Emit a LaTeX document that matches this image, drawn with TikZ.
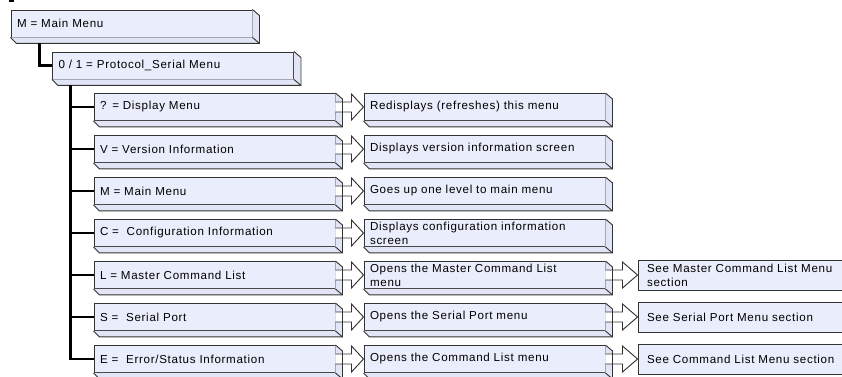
\documentclass[tikz,border=0pt]{standalone}
\usepackage{fontspec}
\setmainfont{Liberation Sans}[LetterSpace=6.0]
\usetikzlibrary{calc}
\definecolor{boxfill}{HTML}{EAEDFB}
\definecolor{sidefill}{HTML}{E2E5F5}
\definecolor{edge}{HTML}{333333}
\tikzset{
 menubox/.style={draw=edge, line width=0.7pt, fill=boxfill, rectangle, inner xsep=4.5pt, inner ysep=0pt, minimum height=20.25pt, text width=171.75pt, align=left, font=\fontsize{8.7pt}{10.5pt}\selectfont},
 seebox/.style={menubox, inner xsep=6.75pt, text width=153pt, minimum height=22.5pt},
 conn/.style={line width=2.2pt, black, line join=miter},
 blockarrow/.style={draw=edge, line width=0.7pt, fill=white, line join=miter},
 sideface/.style={fill=sidefill},
 sideline/.style={draw=edge, line width=0.7pt},
}
\newcommand\bevfill[1]{\fill[sideface] (#1.north east) -- ++(7,6) -- ($(#1.south east)+(7,6)$) -- ($(#1.south west)+(6,6)$) -- (#1.south west) -- (#1.south east) -- cycle;}
\newcommand\bevline[1]{\draw[sideline] (#1.north east) -- ++(7,6) -- ($(#1.south east)+(7,6)$) -- ($(#1.south west)+(6,6)$) -- (#1.south west); \draw[sideline] (#1.south east) -- ++(7,6);}
\newcommand\blockarr[3]{\draw[blockarrow] ($(#1.east)+(0,-5)$) -- ($(#1.east)+(#3,-5)$) -- ($(#1.east)+(#3,-13)$) -- (#2.west) -- ($(#1.east)+(#3,13)$) -- ($(#1.east)+(#3,5)$) -- ($(#1.east)+(0,5)$);}
\begin{document}
\begin{tikzpicture}[x=0.75pt,y=-0.75pt]
\useasboundingbox (0,0) rectangle (842,377);
\clip (0,0) rectangle (842,377);
\fill[white] (0,0) rectangle (842,377);
\draw[line width=1.1pt] (9,0.8) -- (14,0.8);
% top boxes
\node[menubox] (b1) at (131.5,23.5) {M = Main Menu};
\node[menubox] (b2) at (173,65.5) {0 / 1 = Protocol\_Serial Menu};
% children
\node[menubox] (c1) at (214.5,107) {? = Display Menu};
\node[menubox] (c2) at (214.5,149) {V = Version Information};
\node[menubox] (c3) at (214.5,191) {M = Main Menu};
\node[menubox] (c4) at (214.5,233) {C =\ \ Configuration Information};
\node[menubox] (c5) at (214.5,275) {L = Master Command List};
\node[menubox] (c6) at (214.5,317) {S =\ \ Serial Port};
\node[menubox] (c7) at (214.5,359) {E =\ \ Error/Status Information};
% middle
\node[menubox] (m1) at (484.5,107) {Redisplays (refreshes) this menu};
\node[menubox] (m2) at (484.5,149) {Displays version information screen};
\node[menubox] (m3) at (484.5,191) {Goes up one level to main menu};
\node[menubox] (m4) at (484.5,233) {Displays configuration information\\screen};
\node[menubox] (m5) at (484.5,275) {Opens the Master Command List\\menu};
\node[menubox] (m6) at (484.5,317) {Opens the Serial Port menu};
\node[menubox] (m7) at (484.5,359) {Opens the Command List menu};
% third
\node[seebox] (t5) at (749,275) {See Master Command List Menu\\section};
\node[seebox] (t6) at (749,317) {See Serial Port Menu section};
\node[seebox] (t7) at (749,359) {See Command List Menu section};
% bevel faces
\foreach \n in {b1,b2,c1,c2,c3,c4,c5,c6,c7,m1,m2,m3,m4,m5,m6,m7} {\bevfill{\n}}
% block arrows
\foreach \k in {1,...,7} {\blockarr{c\k}{m\k}{16}}
\foreach \k in {5,6,7} {\blockarr{m\k}{t\k}{17}}
% bevel edges
\foreach \n in {b1,b2,c1,c2,c3,c4,c5,c6,c7,m1,m2,m3,m4,m5,m6,m7} {\bevline{\n}}
% connectors
\coordinate (s1) at ($(b1.south west)+(29,6)$);
\draw[conn] (s1) |- (b2.west);
\coordinate (tr) at ($(b2.south west)+(18,6)$);
\draw[conn] (tr) |- (c7.west);
\foreach \k in {1,...,6} {\draw[conn] (tr |- c\k.west) -- (c\k.west);}
\end{tikzpicture}
\end{document}
